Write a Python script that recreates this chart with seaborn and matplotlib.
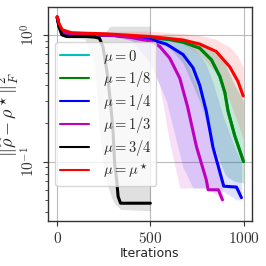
import numpy as np
import seaborn as sns
import matplotlib
matplotlib.use("Agg")
import matplotlib.pyplot as plt

# Values
labels = [r"$\mu = 0$", r"$\mu = 1/8$", r"$\mu = 1/4$", r"$\mu = 1/3$", r"$\mu = 3/4$", r"$\mu = \mu^\star$"]
colors = ["c", "g", "b", "m", "k", "r"]

# mu = 0 (hidden under the other curves)
x_c = [0, 10, 25, 50, 100, 200, 300, 400, 500, 600, 675, 765, 828, 873, 900, 917, 953, 1000]
y_c = [1.38, 1.18, 1.06, 1.03, 1.01, 1.0, 0.99, 0.97, 0.95, 0.92, 0.875, 0.785, 0.635, 0.47, 0.35, 0.25, 0.16, 0.1]
lo_c = [1.38, 1.18, 1.06, 1.03, 1.01, 1.0, 0.98, 0.95, 0.9, 0.8, 0.6, 0.3, 0.15, 0.1, 0.08, 0.075, 0.07, 0.068]
hi_c = [1.38, 1.18, 1.06, 1.03, 1.01, 1.0, 1.0, 1.0, 1.0, 0.98, 0.95, 0.88, 0.78, 0.68, 0.6, 0.52, 0.4, 0.3]

# mu = 1/8
x_g = [0, 10, 25, 50, 100, 200, 300, 400, 500, 600, 675, 765, 828, 873, 900, 917, 953, 1000]
y_g = [1.38, 1.18, 1.06, 1.03, 1.01, 1.0, 0.99, 0.97, 0.95, 0.92, 0.875, 0.785, 0.635, 0.47, 0.35, 0.25, 0.16, 0.1]
lo_g = [1.38, 1.18, 1.06, 1.03, 1.01, 1.0, 0.98, 0.95, 0.9, 0.8, 0.6, 0.3, 0.15, 0.1, 0.08, 0.075, 0.07, 0.068]
hi_g = [1.38, 1.18, 1.06, 1.03, 1.01, 1.0, 1.0, 1.0, 1.0, 0.98, 0.95, 0.88, 0.78, 0.68, 0.6, 0.52, 0.4, 0.3]

# mu = 1/4
x_bl = [0, 10, 25, 50, 100, 200, 300, 400, 500, 586, 675, 729, 765, 800, 836, 894, 962, 989]
y_bl = [1.38, 1.18, 1.06, 1.03, 1.01, 1.0, 0.99, 0.96, 0.92, 0.845, 0.7, 0.55, 0.4, 0.25, 0.13, 0.064, 0.063, 0.052]
lo_bl = [1.38, 1.18, 1.06, 1.03, 1.01, 1.0, 0.97, 0.9, 0.6, 0.3, 0.09, 0.062, 0.062, 0.062, 0.062, 0.058, 0.05, 0.05]
hi_bl = [1.38, 1.18, 1.06, 1.03, 1.01, 1.0, 1.0, 0.99, 0.97, 0.94, 0.86, 0.78, 0.7, 0.58, 0.42, 0.22, 0.12, 0.1]

# mu = 1/3
x_m = [0, 10, 25, 50, 100, 200, 300, 400, 500, 550, 604, 658, 700, 747, 800, 810, 865, 887]
y_m = [1.38, 1.18, 1.06, 1.03, 1.01, 1.0, 0.99, 0.95, 0.89, 0.81, 0.655, 0.455, 0.27, 0.132, 0.072, 0.06, 0.06, 0.05]
lo_m = [1.38, 1.18, 1.06, 1.03, 1.01, 1.0, 0.97, 0.9, 0.6, 0.4, 0.14, 0.062, 0.062, 0.062, 0.062, 0.062, 0.053, 0.046]
hi_m = [1.38, 1.18, 1.06, 1.03, 1.01, 1.0, 1.0, 0.98, 0.95, 0.9, 0.84, 0.72, 0.58, 0.4, 0.2, 0.17, 0.1, 0.075]

# mu = 3/4
x_k = [0, 10, 25, 50, 100, 150, 200, 227, 245, 254, 270, 281, 292, 300, 308, 319, 327, 340, 500]
y_k = [1.36, 1.15, 1.0, 0.97, 0.97, 0.97, 0.96, 0.94, 0.81, 0.675, 0.48, 0.34, 0.235, 0.17, 0.098, 0.072, 0.053, 0.047, 0.047]
lo_k = [1.36, 1.15, 0.99, 0.95, 0.94, 0.92, 0.6, 0.17, 0.1, 0.085, 0.065, 0.058, 0.052, 0.049, 0.047, 0.045, 0.044, 0.042, 0.041]
hi_k = [1.36, 1.15, 1.0, 0.99, 0.99, 0.99, 0.99, 1.0, 1.01, 1.03, 1.1, 1.16, 1.17, 1.17, 1.17, 1.17, 1.17, 1.17, 1.17]

# mu = mu*
x_r = [0, 10, 28, 75, 150, 250, 350, 497, 675, 765, 853, 926, 970, 998]
y_r = [1.39, 1.22, 1.095, 1.04, 1.03, 1.02, 1.0, 0.97, 0.91, 0.845, 0.74, 0.56, 0.43, 0.33]
lo_r = [1.39, 1.22, 1.095, 1.04, 1.03, 1.01, 0.99, 0.94, 0.85, 0.7, 0.5, 0.3, 0.2, 0.15]
hi_r = [1.39, 1.22, 1.095, 1.05, 1.05, 1.06, 1.07, 1.07, 1.02, 0.99, 0.92, 0.8, 0.68, 0.55]

series = [
    (x_c, y_c, lo_c, hi_c),
    (x_g, y_g, lo_g, hi_g),
    (x_bl, y_bl, lo_bl, hi_bl),
    (x_m, y_m, lo_m, hi_m),
    (x_k, y_k, lo_k, hi_k),
    (x_r, y_r, lo_r, hi_r),
]

sns.set_style("ticks")
plt.rcParams["mathtext.fontset"] = "cm"
plt.rcParams["axes.formatter.use_mathtext"] = True
plt.rcParams["axes.edgecolor"] = "#333333"
plt.rcParams["xtick.color"] = "#333333"
plt.rcParams["ytick.color"] = "#333333"
plt.rcParams["font.family"] = ["serif"]
plt.rcParams["font.serif"] = ["cmr10", "DejaVu Serif"]

fig, ax = plt.subplots(figsize=(2.66, 2.66), dpi=100)
fig.subplots_adjust(left=0.180, right=0.947, top=0.974, bottom=0.169)

for (x, y, lo, hi), c, lab in zip(series, colors, labels):
    ax.fill_between(x, lo, hi, color=c, alpha=0.12, lw=0)
    sns.lineplot(x=x, y=y, color=c, lw=2.2, label=lab, ax=ax, sort=False)

ax.set_yscale("log")
ax.set_ylim(0.034, 1.66)
ax.set_xlim(-50, 1045)
ax.set_xticks([0, 500, 1000])
ax.grid(True, which="major", color="#bbbbbb", lw=0.8)
ax.tick_params(which="major", labelsize=11, length=3.5, width=0.8)
ax.tick_params(which="minor", length=2, width=0.6)
ax.tick_params(axis="x", which="minor", bottom=False)
for t in ax.get_yticklabels():
    t.set_rotation(90)
    t.set_va("center")
for s in ax.spines.values():
    s.set_linewidth(1.0)

ax.set_xlabel("Iterations", fontsize=9, labelpad=1, family="DejaVu Sans")
ax.set_ylabel(r"$\|\widehat{\rho} - \rho^\star\|_F^2$", fontsize=13)
ax.yaxis.set_label_coords(-0.125, 0.5)

leg = ax.legend(loc="center left", fontsize=10.5, framealpha=0.8, labelspacing=0.22,
                handlelength=2.0, handletextpad=0.9, borderpad=0.35)
for l in leg.get_lines():
    l.set_linewidth(1.5)

fig.savefig("out.png", dpi=100)
